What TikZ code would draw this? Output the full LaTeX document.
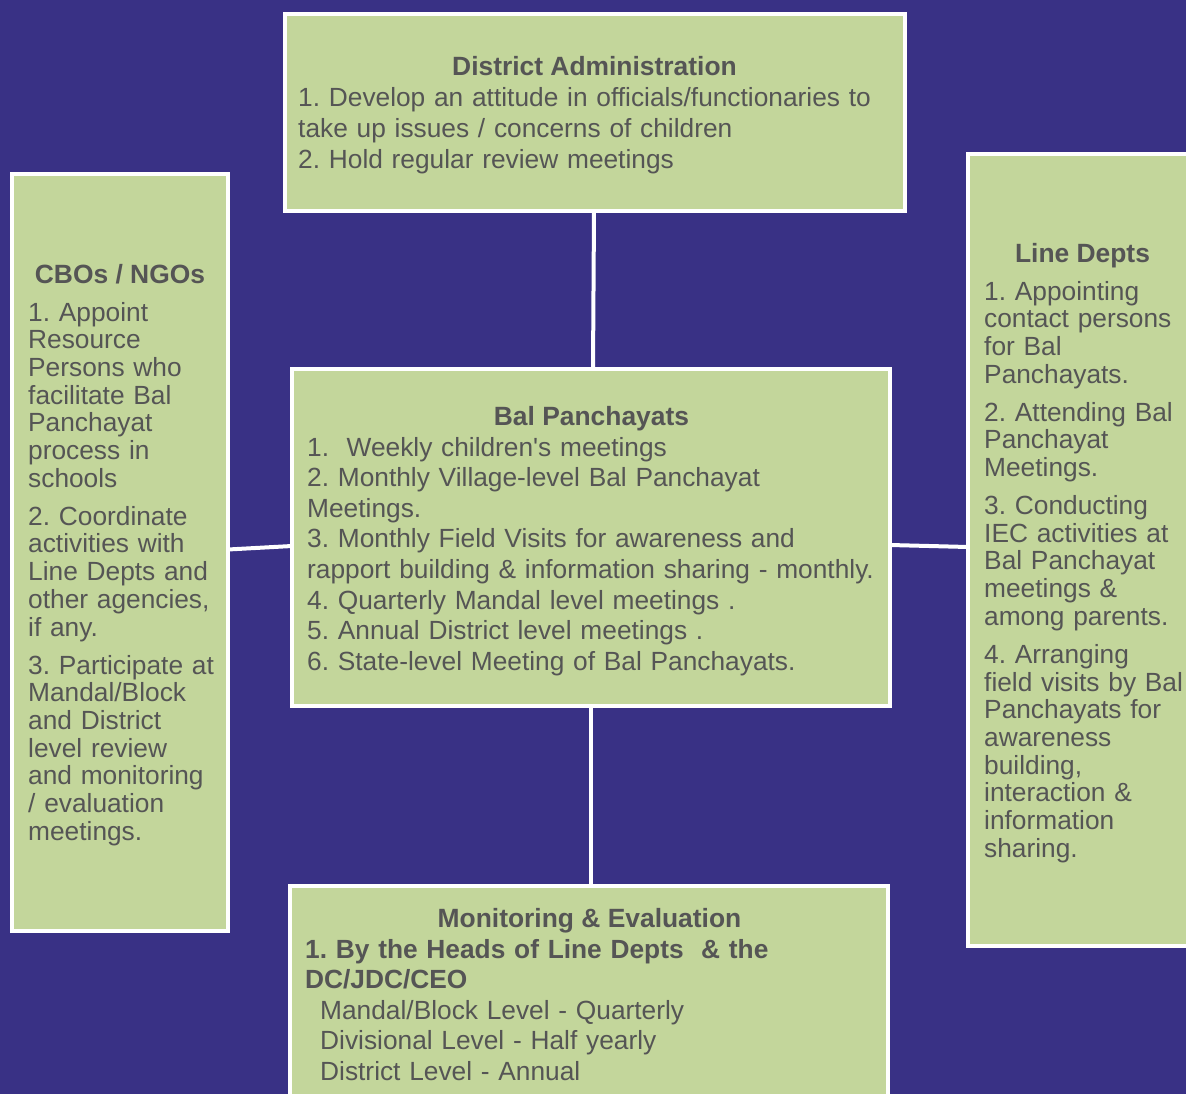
\documentclass[tikz,border=0pt]{standalone}
\usepackage{fontspec}
\setmainfont{Liberation Sans}[Ligatures=TeXOff]
\frenchspacing
\definecolor{bgcol}{HTML}{393185}
\definecolor{boxfill}{HTML}{C3D69B}
\definecolor{txtcol}{HTML}{555555}
\tikzset{
  box/.style={draw=white, line width=4pt, fill=boxfill, inner sep=0pt, outer sep=0pt},
  ttl/.style={anchor=base, inner sep=0pt, text=txtcol, font=\bfseries\fontsize{26.4}{30.6}\selectfont},
  bodyc/.style={anchor=base west, inner sep=0pt, text=txtcol, text width=620pt, align=left, font=\fontsize{26.3}{30.6}\selectfont},
  bodys/.style={anchor=base west, inner sep=0pt, text=txtcol, text width=220pt, align=left, font=\fontsize{26.3}{27.7}\selectfont},
  link/.style={draw=white, line width=4pt}
}
\begin{document}
\begin{tikzpicture}[x=1pt,y=-1pt]
\useasboundingbox (0,0) rectangle (1186,1094);
\clip (0,0) rectangle (1186,1094);
\fill[bgcol] (0,0) rectangle (1186,1094);

% boxes
\node[box, minimum width=620pt, minimum height=197pt] (da) at (595,112.5) {};
\node[box, minimum width=216pt, minimum height=757pt] (cbo) at (120,552.5) {};
\node[box, minimum width=222pt, minimum height=792pt] (ld) at (1079,550) {};
\node[box, minimum width=598pt, minimum height=337pt] (bp) at (591,537.5) {};
\node[box, minimum width=598pt, minimum height=214pt] (me) at (589,993) {};

% connectors
\draw[link] ([xshift=-1pt]da.south) -- ([xshift=2pt]bp.north);
\draw[link] (bp.south) -- ([xshift=2pt]me.north);
\draw[link] ([yshift=3pt]cbo.east) -- ([yshift=-8.5pt]bp.west);
\draw[link] ([yshift=-7.5pt]bp.east) -- ([yshift=3pt]ld.west);

% District Administration
\node[ttl] (dat) at (594.5,76) {District Administration};
\node[bodyc] (dab) at (298,107) {1. Develop an attitude in officials/functionaries to\\take up issues / concerns of children\\2. Hold regular review meetings};

% CBOs / NGOs
\node[ttl] (cbot) at (120,283) {CBOs / NGOs};
\node[bodys] (cbob) at (28,321) {1. Appoint\\Resource\\Persons who\\facilitate Bal\\Panchayat\\process in\\schools\\[10.3pt]2. Coordinate\\activities with\\Line Depts and\\other agencies,\\if any.\\[10.3pt]3. Participate at\\Mandal/Block\\and District\\level review\\and monitoring\\/ evaluation\\meetings.};

% Line Depts
\node[ttl] (ldt) at (1082.5,262) {Line Depts};
\node[bodys] (ldb) at (984,300) {1. Appointing\\contact persons\\for Bal\\Panchayats.\\[10.3pt]2. Attending Bal\\Panchayat\\Meetings.\\[10.3pt]3. Conducting\\IEC activities at\\Bal Panchayat\\meetings \&\\among parents.\\[10.3pt]4. Arranging\\field visits by Bal\\Panchayats for\\awareness\\building,\\interaction \&\\information\\sharing.};

% Bal Panchayats
\node[ttl] (bpt) at (591.5,425) {Bal Panchayats};
\node[bodyc] (bpb) at (307,456) {1.\ \ Weekly children's meetings\\2. Monthly Village-level Bal Panchayat\\Meetings.\\3. Monthly Field Visits for awareness and\\rapport building \& information sharing - monthly.\\4. Quarterly Mandal level meetings .\\5. Annual District level meetings .\\6. State-level Meeting of Bal Panchayats.};

% Monitoring & Evaluation
\node[ttl] (met) at (589.5,927) {Monitoring \& Evaluation};
\node[bodyc] (meb) at (305,958) {\textbf{1. By the Heads of Line Depts\ \ \& the}\\\textbf{DC/JDC/CEO}\\\hspace*{15pt}Mandal/Block Level - Quarterly\\\hspace*{15pt}Divisional Level - Half yearly\\\hspace*{15pt}District Level - Annual};
\end{tikzpicture}
\end{document}
